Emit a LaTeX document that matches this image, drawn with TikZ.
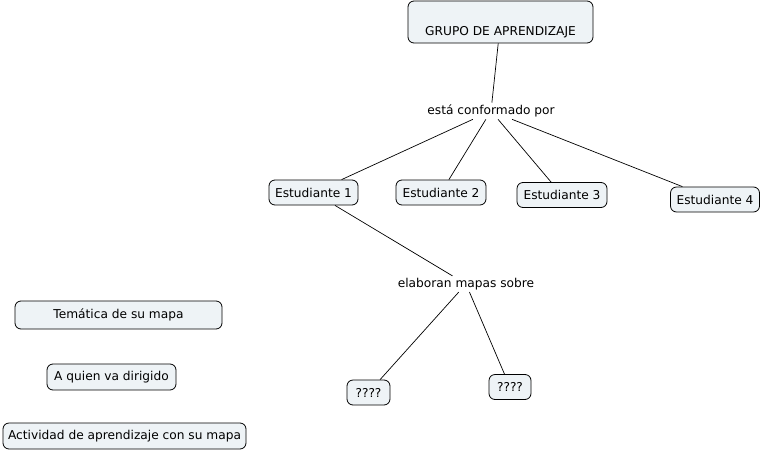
\documentclass[tikz,border=0pt]{standalone}
\usepackage{fontspec}
\setmainfont{DejaVu Sans}
\usetikzlibrary{positioning}
\definecolor{boxfill}{RGB}{238,243,246}
\tikzset{
  concept/.style={draw=black, line width=0.8pt, rounded corners=6pt, fill=boxfill, minimum height=25pt, inner sep=3pt, align=center, font=\fontsize{12.2}{14}\selectfont},
  linkword/.style={inner sep=2pt, align=center, font=\fontsize{12.2}{14}\selectfont},
  link/.style={line width=0.7pt, draw=black}
}
\begin{document}
\begin{tikzpicture}[x=1pt, y=-1pt]
  \useasboundingbox (0,0) rectangle (763,453);
  \node[concept, minimum width=185pt, minimum height=42pt, text height=27pt, text depth=0pt] (grupo) at (500.5,22) {GRUPO DE APRENDIZAJE};
  \node[linkword] (conf) at (491,111) {está conformado por};
  \node[concept, minimum width=89pt] (est1) at (313.5,192.5) {Estudiante 1};
  \node[concept, minimum width=90pt] (est2) at (441,192.5) {Estudiante 2};
  \node[concept, minimum width=90pt] (est3) at (562,195) {Estudiante 3};
  \node[concept, minimum width=89pt] (est4) at (715,199.5) {Estudiante 4};
  \node[linkword] (elab) at (466,284) {elaboran mapas sobre};
  \node[concept, minimum width=43pt] (preg1) at (368.5,392.5) {????};
  \node[concept, minimum width=42pt] (preg2) at (510,387) {????};
  \node[concept, minimum width=207pt, minimum height=28pt] (tema) at (118.5,315) {Temática de su mapa};
  \node[concept, minimum width=129pt, minimum height=26pt] (dirig) at (111.5,377) {A quien va dirigido};
  \node[concept, minimum width=243pt, minimum height=26pt] (activ) at (124.5,436) {Actividad de aprendizaje con su mapa};

  \draw[link] (grupo) -- (conf);
  \draw[link] (conf) -- (est1);
  \draw[link] (conf) -- (est2);
  \draw[link] (conf) -- (est3);
  \draw[link] (conf) -- (est4);
  \draw[link] (est1) -- (elab);
  \draw[link] (elab) -- (preg1);
  \draw[link] (elab) -- (preg2);
\end{tikzpicture}
\end{document}
